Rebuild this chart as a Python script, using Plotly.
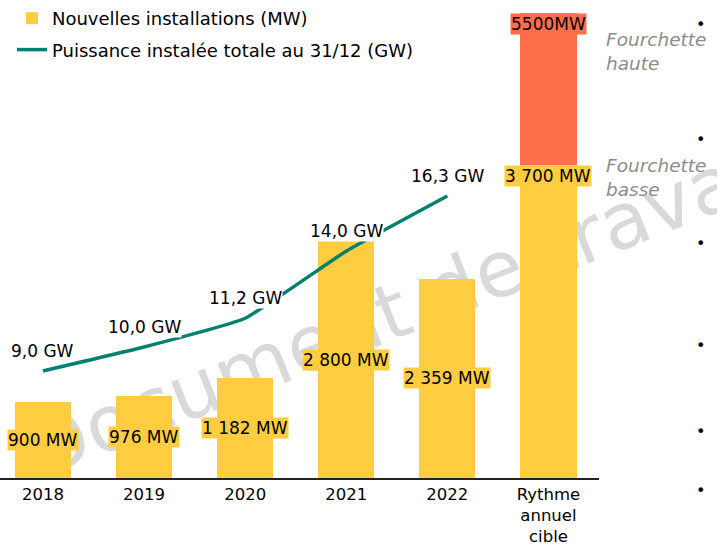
import plotly.graph_objects as go

# ---- data ----
categories = ["2018", "2019", "2020", "2021", "2022", "Rythme<br>annuel<br>cible"]
new_installations_mw = [900, 976, 1182, 2800, 2359, 3700]
high_range_total_mw = 5500          # "Fourchette haute" for the target bar
total_capacity_gw = [9.0, 10.0, 11.2, 14.0, 16.3]
bar_labels = ["900 MW", "976 MW", "1 182 MW", "2 800 MW", "2 359 MW", "3 700 MW"]
high_label = "5500MW"
gw_labels = [f"{v:.1f}".replace(".", ",") + " GW" for v in total_capacity_gw]

# ---- styles ----
YELLOW = "#FFCD3F"
RED = "#FF6E4A"
TEAL = "#00806E"
FONT = "DejaVu Sans"

high_extra = [None] * (len(categories) - 1) + [high_range_total_mw - new_installations_mw[-1]]

fig = go.Figure()
fig.add_trace(go.Bar(
    x=categories, y=new_installations_mw, name="Nouvelles installations (MW)",
    marker=dict(color=YELLOW, line=dict(width=0)), width=0.555, legendgroup="a",
))
fig.add_trace(go.Bar(
    x=categories, y=high_extra, name="Fourchette haute",
    marker=dict(color=RED, line=dict(width=0)), width=0.555, showlegend=False,
))
fig.add_trace(go.Scatter(
    x=categories[:len(total_capacity_gw)], y=total_capacity_gw, yaxis="y2",
    mode="lines", name="Puissance instalée totale au 31/12 (GW)",
    line=dict(color=TEAL, width=3.5, shape="spline", smoothing=0.35), legendgroup="b",
))

annotations = []
# bar value labels
for i, (v, t) in enumerate(zip(new_installations_mw, bar_labels)):
    last = i == len(categories) - 1
    annotations.append(dict(
        x=i, y=v if last else v / 2, xref="x", yref="y", text=t, showarrow=False,
        yanchor="top" if last else "middle", bgcolor=YELLOW, borderpad=0,
        font=dict(size=17, color="black", family=FONT),
    ))
annotations.append(dict(
    x=len(categories) - 1, y=high_range_total_mw, xref="x", yref="y", text=high_label,
    showarrow=False, yanchor="top", bgcolor=RED, borderpad=0,
    font=dict(size=17, color="black", family=FONT),
))
# line labels
for i, (v, t) in enumerate(zip(total_capacity_gw, gw_labels)):
    annotations.append(dict(
        x=i, y=v, xref="x", yref="y2", text=t, showarrow=False, yshift=20,
        bgcolor="white", borderpad=0, font=dict(size=17, color="black", family=FONT),
    ))
# range notes
annotations.append(dict(
    x=1, xref="paper", xanchor="left", xshift=5, y=high_range_total_mw, yref="y",
    yanchor="middle", yshift=-38, text="Fourchette<br>haute", showarrow=False, align="left",
    font=dict(size=18.5, color="#8C8C8C", family=FONT, style="italic"),
))
annotations.append(dict(
    x=1, xref="paper", xanchor="left", xshift=5, y=new_installations_mw[-1], yref="y",
    yanchor="middle", yshift=-12, text="Fourchette<br>basse", showarrow=False, align="left",
    font=dict(size=18.5, color="#8C8C8C", family=FONT, style="italic"),
))
# bullets from the neighbouring slide text
for yp in [13, 128, 243, 357, 443, 502]:
    annotations.append(dict(
        x=707 / 599, xref="paper", y=(478 - yp) / 478, yref="paper", text="•",
        showarrow=False, font=dict(size=16, color="black", family=FONT),
    ))

fig.update_layout(
    width=717, height=550,
    margin=dict(l=0, r=118, t=0, b=72),
    paper_bgcolor="white", plot_bgcolor="rgba(0,0,0,0)",
    barmode="stack", bargap=0,
    font=dict(family=FONT, size=17, color="black"),
    showlegend=True,
    legend=dict(x=0.02, y=1.0, xanchor="left", yanchor="top", traceorder="grouped",
                tracegroupgap=5, bgcolor="rgba(0,0,0,0)", font=dict(size=18, family=FONT)),
    xaxis=dict(type="category", range=[-0.425, 5.5], showline=True, linecolor="#222222",
               linewidth=1.5, showgrid=False, ticks="",
               tickfont=dict(size=16.5, color="black", family=FONT), fixedrange=True),
    yaxis=dict(range=[0, 5657], visible=False, showgrid=False, fixedrange=True),
    yaxis2=dict(range=[4.536, 24.478], overlaying="y", visible=False, showgrid=False,
                fixedrange=True),
    annotations=annotations,
    shapes=[dict(
        type="rect", xref="paper", yref="paper", x0=0.623, x1=0.713, y0=0.343, y1=0.393,
        line=dict(width=0), fillcolor="rgba(0,0,0,0)", layer="below",
        label=dict(text="Document de travail", textangle=-21.5, textposition="middle center",
                   font=dict(size=78, color="#D9D9D9", family=FONT)),
    )],
)

fig.write_html("out.html", config={"displayModeBar": False},
               post_script="document.body.style.margin='0';")
